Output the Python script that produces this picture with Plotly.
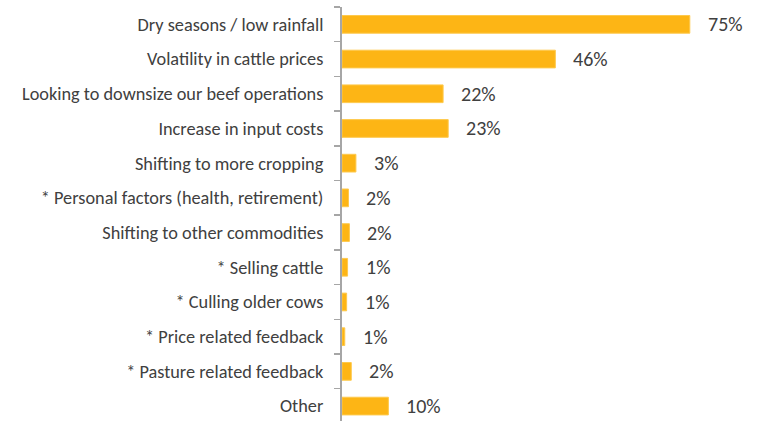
import plotly.graph_objects as go

categories = [
    "Dry seasons / low rainfall",
    "Volatility in cattle prices",
    "Looking to downsize our beef operations",
    "Increase in input costs",
    "Shifting to more cropping",
    "* Personal factors (health, retirement)",
    "Shifting to other commodities",
    "* Selling cattle",
    "* Culling older cows",
    "* Price related feedback",
    "* Pasture related feedback",
    "Other",
]
values = [75, 46, 21.8, 22.9, 3.0, 1.4, 1.6, 1.2, 1.0, 0.6, 2.0, 10.0]
value_labels = ["75%", "46%", "22%", "23%", "3%", "2%", "2%", "1%", "1%", "1%", "2%", "10%"]

BAR = "#FDB515"
TEXT = "#404040"
FONT = "Carlito, Calibri, Lato, sans-serif"

fig = go.Figure()
fig.add_trace(go.Bar(
    x=values, y=categories, orientation="h",
    marker=dict(color=BAR, line=dict(color="#FEC94C", width=1)),
    hoverinfo="skip",
))

for c, v, t in zip(categories, values, value_labels):
    fig.add_annotation(x=v, y=c, text=t, showarrow=False, xanchor="left",
                       yanchor="middle", xshift=16,
                       font=dict(family=FONT, size=20, color=TEXT))

fig.update_layout(
    width=761, height=421,
    margin=dict(l=342, r=48, t=7, b=0),
    paper_bgcolor="white", plot_bgcolor="white",
    bargap=0.49,
    showlegend=False,
    font=dict(family=FONT, color=TEXT, size=18.3),
)
fig.update_xaxes(range=[0, 80], visible=False, showgrid=False, zeroline=False)
fig.update_yaxes(
    categoryorder="array", categoryarray=categories,
    range=[11.43, -0.5],
    showline=True, linecolor="#A6A6A6", linewidth=2,
    ticks="outside", ticklen=6, tickwidth=1.5, tickcolor="#A6A6A6",
    tickson="boundaries", showgrid=False, zeroline=False,
    tickfont=dict(family=FONT, size=18.3, color=TEXT),
    ticklabelstandoff=13,
)

fig.write_html(
    "out.html",
    config={"displayModeBar": False, "staticPlot": True},
    post_script="document.body.style.margin='0';document.documentElement.style.overflow='hidden';",
)
